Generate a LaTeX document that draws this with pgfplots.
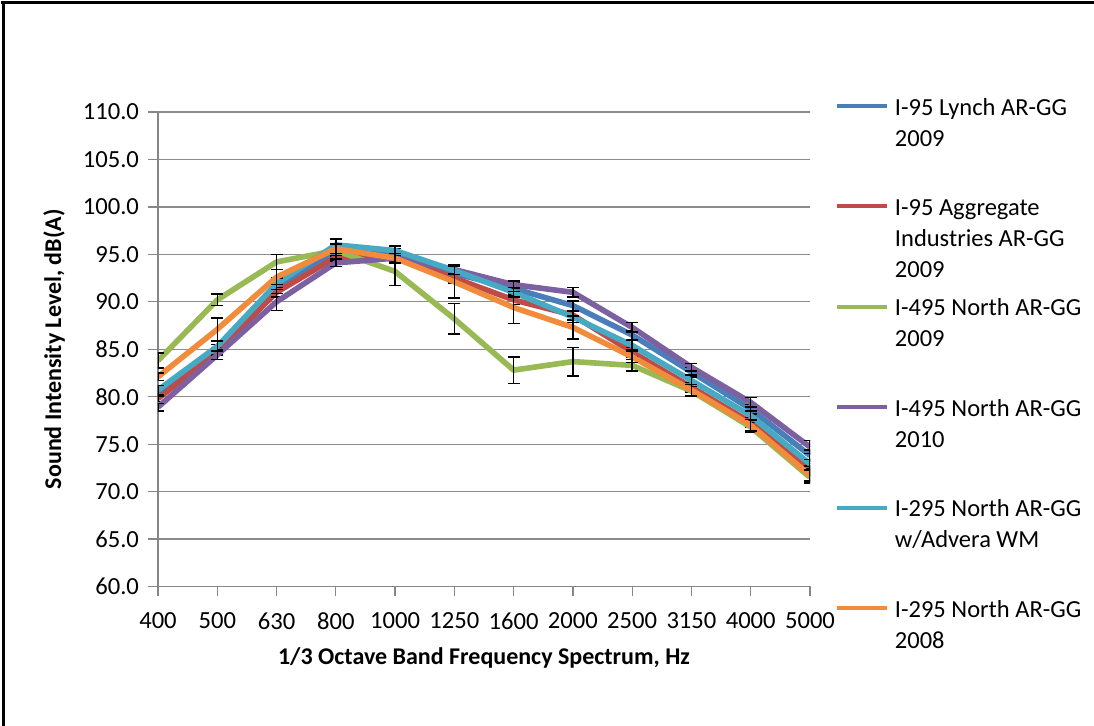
\documentclass[border=0pt]{standalone}
\usepackage{fontspec}
\setmainfont{Carlito}
\usepackage{pgfplots}
\usepackage{pgfplotstable}
\pgfplotsset{compat=1.18}

\definecolor{lynch}{RGB}{74,126,187}
\definecolor{aggr}{RGB}{190,75,72}
\definecolor{northnine}{RGB}{152,185,84}
\definecolor{northten}{RGB}{125,96,160}
\definecolor{advera}{RGB}{70,170,197}
\definecolor{northeight}{RGB}{240,140,60}
\definecolor{axisgray}{RGB}{134,134,134}
\definecolor{gridgray}{RGB}{140,140,140}

% x = band index (400 ... 5000 Hz), value and error for each series
\pgfplotstableread{
x  b    be  r    re  g    ge  p    pe  t    te  o    oe
0  80.5 0.5 79.8 0.3 83.8 0.8 78.9 0.4 80.7 0.5 82.1 0.4
1  85.1 0.4 84.8 0.4 90.2 0.6 84.4 0.5 85.3 0.5 87.1 1.2
2  91.6 0.5 91.0 0.5 94.2 0.8 90.0 0.9 91.9 0.6 92.6 0.8
3  95.3 0.5 94.7 0.4 95.4 0.5 94.1 0.4 96.0 0.6 95.6 0.5
4  95.1 0.5 94.7 0.4 93.2 1.5 94.6 0.5 95.4 0.5 94.6 0.5
5  93.0 0.5 92.5 0.5 88.2 1.6 93.4 0.5 93.3 0.4 92.1 1.7
6  91.4 0.6 90.2 0.5 82.8 1.4 91.8 0.4 91.0 0.5 89.4 1.7
7  89.6 0.5 88.6 0.5 83.7 1.5 91.0 0.5 88.4 0.6 87.3 1.2
8  86.5 0.5 84.7 0.5 83.3 0.6 87.3 0.5 85.4 0.5 84.2 0.6
9  82.6 0.5 81.0 0.5 80.6 0.5 83.1 0.4 81.7 0.6 80.7 0.6
10 78.7 0.5 77.3 0.5 76.8 0.5 79.4 0.5 78.0 0.5 77.0 0.6
11 73.8 0.6 72.2 0.5 71.5 0.6 74.7 0.7 72.9 0.5 71.7 0.6
}\datatable

\newcommand{\lgtwo}[2]{\vtop{\hbox{#1}\hbox{#2}}}
\newcommand{\lgthree}[3]{\vtop{\hbox{#1}\hbox{#2}\hbox{#3}}}

\pgfplotsset{
  series/.style={#1, line width=2.8pt, line join=round, mark=none,
    error bars/.cd, y dir=both, y explicit,
    error bar style={black, line width=0.75pt},
    error mark options={black, line width=0.75pt, mark size=3pt, rotate=90}},
}

\begin{document}
\begin{tikzpicture}
\useasboundingbox (0,0) rectangle (547pt,-363pt);
\draw[black, line width=1.5pt] (0.5pt,-1.25pt) -- (547pt,-1.25pt);
\draw[black, line width=1.5pt] (1.75pt,-0.5pt) -- (1.75pt,-363pt);
\begin{axis}[
  at={(79pt,-293.25pt)}, anchor=south west,
  scale only axis, width=326pt, height=237.25pt,
  xmin=0, xmax=11, ymin=60, ymax=110,
  axis x line*=bottom, axis y line*=left,
  axis line style={draw=axisgray, line width=0.6pt},
  tick style={draw=axisgray, line width=0.6pt},
  tick align=outside, major tick length=5pt,
  xtick={0,...,11},
  xticklabels={400,500,630,800,1000,1250,1600,2000,2500,3150,4000,5000},
  xticklabel style={yshift=-4.5pt},
  ytick={60,65,...,110},
  yticklabel style={xshift=-1pt, /pgf/number format/.cd, fixed, fixed zerofill, precision=1, assume math mode=true},
  ticklabel style={font=\fontsize{12.3pt}{14pt}\selectfont},
  ymajorgrids, grid style={draw=gridgray, line width=0.6pt},
  label style={font=\bfseries\fontsize{12pt}{14pt}\selectfont},
  xlabel={1/3 Octave Band Frequency Spectrum, Hz},
  ylabel={Sound Intensity Level, dB(A)},
  xlabel style={at={(axis description cs:0.5,-0.1507)}, anchor=center},
  ylabel style={at={(axis description cs:-0.1595,0.5)}, anchor=center},
  legend style={at={(axis description cs:1.0383,1.0358)}, anchor=north west,
    draw=none, fill=none, inner sep=0pt, outer sep=0pt,
    row sep=5.2pt, column sep=3pt,
    nodes={inner sep=0pt, text height=10pt, text depth=35pt},
    cells={anchor=base west},
    font=\fontsize{12.25pt}{15.5pt}\selectfont},
  legend image code/.code={\draw[#1, line width=2pt, line cap=butt] (0pt,4.5pt) -- (25pt,4.5pt);},
]
\addplot[series=lynch] table[x=x, y=b, y error=be] {\datatable};
\addlegendentry{\lgtwo{I-95 Lynch AR-GG}{2009}}
\addplot[series=aggr] table[x=x, y=r, y error=re] {\datatable};
\addlegendentry{\lgthree{I-95 Aggregate}{Industries AR-GG}{2009}}
\addplot[series=northnine] table[x=x, y=g, y error=ge] {\datatable};
\addlegendentry{\lgtwo{I-495 North AR-GG}{2009}}
\addplot[series=northten] table[x=x, y=p, y error=pe] {\datatable};
\addlegendentry{\lgtwo{I-495 North AR-GG}{2010}}
\addplot[series=advera] table[x=x, y=t, y error=te] {\datatable};
\addlegendentry{\lgtwo{I-295 North AR-GG}{w/Advera WM}}
\addplot[series=northeight] table[x=x, y=o, y error=oe] {\datatable};
\addlegendentry{\lgtwo{I-295 North AR-GG}{2008}}
\end{axis}
\end{tikzpicture}
\end{document}
